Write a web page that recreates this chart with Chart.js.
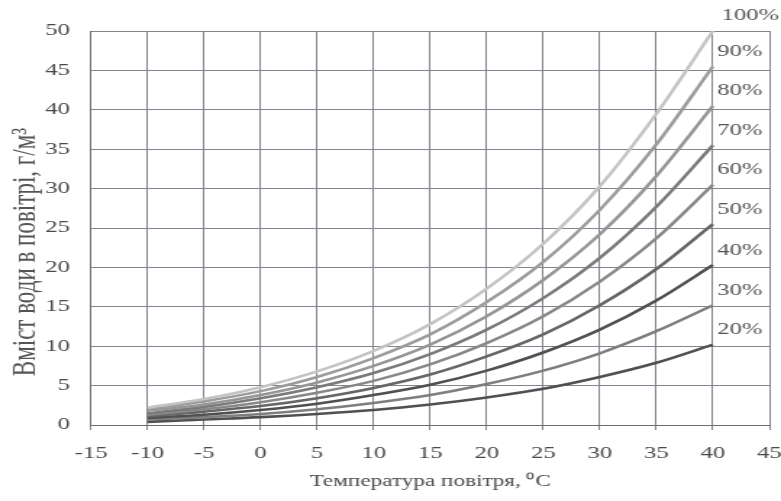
<!DOCTYPE html>
<html>
<head>
<meta charset="utf-8">
<script src="https://cdn.jsdelivr.net/npm/chart.js@4/dist/chart.umd.min.js"></script>
<style>
html,body{margin:0;padding:0;background:#fff;overflow:hidden;}
#c{display:block;width:781px !important;height:501px !important;}
</style>
</head>
<body>
<canvas id="c" width="539" height="501"></canvas>
<script>
// Temperatures (°C)
const temperatures = [-10, -5, 0, 5, 10, 15, 20, 25, 30, 35, 40];
// Relative humidity labels
const rhLabels = ['100%', '90%', '80%', '70%', '60%', '50%', '40%', '30%', '20%'];
// Water content in air, g/m3, per relative humidity
const rh100 = [2.2, 3.3, 4.8, 6.8, 9.4, 12.8, 17.3, 23.0, 30.3, 39.5, 50.0];
const rh90  = [2.0, 3.0, 4.3, 6.1, 8.5, 11.5, 15.6, 20.7, 27.3, 35.6, 45.5];
const rh80  = [1.8, 2.6, 3.8, 5.4, 7.5, 10.2, 13.8, 18.4, 24.2, 31.6, 40.5];
const rh70  = [1.5, 2.3, 3.4, 4.8, 6.6, 9.0, 12.1, 16.1, 21.2, 27.7, 35.5];
const rh60  = [1.3, 2.0, 2.9, 4.1, 5.6, 7.7, 10.4, 13.8, 18.2, 23.7, 30.5];
const rh50  = [1.1, 1.7, 2.4, 3.4, 4.7, 6.4, 8.7, 11.5, 15.2, 19.8, 25.5];
const rh40  = [0.9, 1.3, 1.9, 2.7, 3.8, 5.1, 6.9, 9.2, 12.1, 15.8, 20.3];
const rh30  = [0.7, 1.0, 1.4, 2.0, 2.8, 3.8, 5.2, 6.9, 9.1, 11.9, 15.2];
const rh20  = [0.4, 0.7, 1.0, 1.4, 1.9, 2.6, 3.5, 4.6, 6.1, 7.9, 10.2];
const seriesValues = [rh100, rh90, rh80, rh70, rh60, rh50, rh40, rh30, rh20];
const lineColors = ['#c4c4c4', '#9c9c9c', '#969696', '#7a7a7a', '#888888', '#666666', '#505050', '#7e7e7e', '#505050'];
const yTitle = 'Вміст води в повітрі, г/м³';
const xTitle = 'Температура повітря, ⁰C';

const FONT = "'Liberation Serif', 'Times New Roman', serif";

const datasets = seriesValues.map((vals, i) => ({
  label: rhLabels[i],
  data: temperatures.map((t, j) => ({x: t, y: vals[j]})),
  borderColor: lineColors[i],
  borderWidth: 2.6,
  pointRadius: 0,
  fill: false,
  cubicInterpolationMode: 'monotone'
}));

const textPlugin = {
  id: 'textPlugin',
  afterDatasetsDraw(chart) {
    const ctx = chart.ctx;
    const xs = chart.scales.x;
    ctx.save();
    ctx.font = '17px ' + FONT;
    ctx.fillStyle = '#555';
    ctx.textAlign = 'left';
    ctx.textBaseline = 'middle';
    chart.data.datasets.forEach((ds, i) => {
      const meta = chart.getDatasetMeta(i);
      const last = meta.data[meta.data.length - 1];
      const x = xs.getPixelForValue(temperatures[temperatures.length - 1]) + (i === 0 ? 6 : 3);
      ctx.fillText(ds.label, x, last.y - 15);
    });
    ctx.restore();
    // rotated y-axis title
    ctx.save();
    ctx.font = '23px ' + FONT;
    ctx.fillStyle = '#555';
    ctx.textAlign = 'center';
    ctx.textBaseline = 'middle';
    ctx.translate(17.5, 252);
    ctx.rotate(-Math.PI / 2);
    ctx.fillText(yTitle, 0, 0);
    ctx.restore();
  }
};

new Chart(document.getElementById('c'), {
  type: 'line',
  data: {datasets},
  plugins: [textPlugin],
  options: {
    responsive: false,
    devicePixelRatio: 1,
    animation: false,
    layout: {padding: {top: 31, right: 8, left: 0, bottom: 0}},
    plugins: {legend: {display: false}, tooltip: {enabled: false}},
    scales: {
      x: {
        type: 'linear',
        min: -15, max: 45,
        afterFit(s) { s.height = 76; s.paddingLeft = 0; s.paddingRight = 0; },
        ticks: {stepSize: 5, padding: 13, color: '#4a4a4a', font: {family: FONT, size: 17}, maxRotation: 0},
        grid: {color: '#86828e', lineWidth: 1, tickLength: 5, drawTicks: true},
        border: {display: true, color: '#6e6e6e', width: 1},
        title: {display: true, text: xTitle, color: '#4a4a4a', font: {family: FONT, size: 16}, padding: {top: 0, bottom: 10}}
      },
      y: {
        min: 0, max: 50,
        afterFit(s) { s.width = 62.8; s.paddingTop = 0; s.paddingBottom = 0; },
        ticks: {stepSize: 5, padding: 14.5, color: '#4a4a4a', font: {family: FONT, size: 17}},
        grid: {color: '#86828e', lineWidth: 1, drawTicks: false},
        border: {display: true, color: '#6e6e6e', width: 1},
        title: {display: false}
      }
    }
  }
});
</script>
</body>
</html>
